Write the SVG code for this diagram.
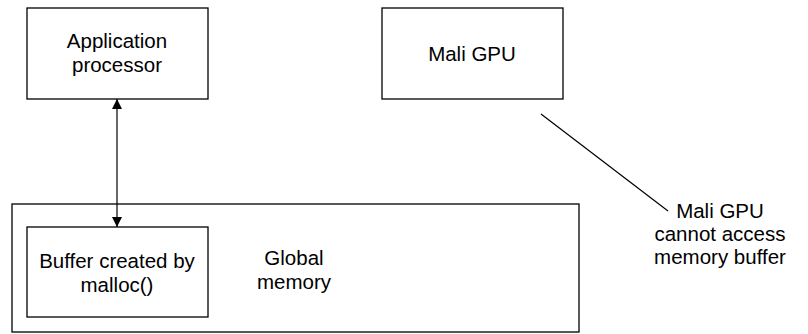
<svg xmlns="http://www.w3.org/2000/svg" width="808" height="334" viewBox="0 0 808 334">
<defs>
<style>
.box{fill:#fff;stroke:#000;stroke-width:1.3}
.t{font-family:"Liberation Sans",Arial,sans-serif;font-size:20.5px;fill:#000;text-anchor:middle}
.ln{stroke:#000;stroke-width:1.2;fill:none}
</style>
<marker id="ah" viewBox="0 0 10 10" refX="10" refY="5" markerWidth="10" markerHeight="10" markerUnits="userSpaceOnUse" orient="auto-start-reverse">
<path d="M0,0 L10,5 L0,10 Z" fill="#000"/>
</marker>
</defs>
<rect width="808" height="334" fill="#fff"/>
<g id="global-memory">
<rect class="box" x="12" y="204" width="567" height="128"/>
<text class="t" x="294" y="265">Global</text>
<text class="t" x="294" y="289">memory</text>
</g>
<g id="app-processor">
<rect class="box" x="27" y="8" width="181" height="91"/>
<text class="t" x="117" y="48">Application</text>
<text class="t" x="117" y="72">processor</text>
</g>
<g id="mali-gpu">
<rect class="box" x="382" y="8" width="181" height="91"/>
<text class="t" x="472" y="61">Mali GPU</text>
</g>
<g id="buffer">
<rect class="box" x="27" y="227" width="181" height="90"/>
<text class="t" x="117" y="268">Buffer created by</text>
<text class="t" x="117" y="292">malloc()</text>
</g>
<g id="note">
<text class="t" x="720" y="218">Mali GPU</text>
<text class="t" x="720" y="241">cannot access</text>
<text class="t" x="720" y="264">memory buffer</text>
</g>
<g id="connectors">
<line class="ln" x1="117" y1="99" x2="117" y2="227" marker-start="url(#ah)" marker-end="url(#ah)"/>
<line class="ln" x1="541" y1="114" x2="668" y2="211"/>
</g>
</svg>
